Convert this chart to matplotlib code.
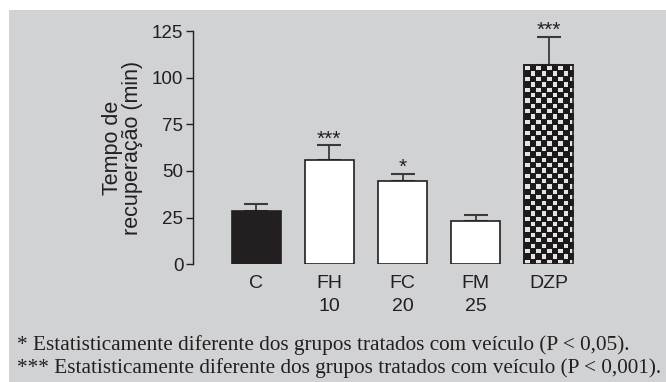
import numpy as np
import matplotlib
matplotlib.use("Agg")
import matplotlib.pyplot as plt
from matplotlib.patches import Rectangle
from matplotlib.colors import ListedColormap

# dados
grupos = ["C", "FH\n10", "FC\n20", "FM\n25", "DZP"]
medias = [28.4, 55.7, 44.8, 23.2, 106.6]
erros = [3.9, 8.2, 3.7, 3.2, 15.3]
signif = ["", "***", "*", "", "***"]
notas = ["* Estatisticamente diferente dos grupos tratados com veículo (P < 0,05).",
         "*** Estatisticamente diferente dos grupos tratados com veículo (P < 0,001)."]

escuro = "#231f20"
cinza = "#d1d2d4"

fig = plt.figure(figsize=(6.66, 3.82), dpi=100, facecolor="white")
fig.patches.append(Rectangle((9/666, 0), 1, 1 - 10/382, transform=fig.transFigure,
                             facecolor=cinza, edgecolor="none", zorder=-10))

ax = fig.add_axes([193/666, (382-264.3)/382, (612-193)/666, (264.3-31)/382])
ax.patch.set_alpha(0)

x = np.arange(len(grupos))
cores = [escuro, "white", "white", "white", escuro]
barras = ax.bar(x, medias, width=0.67, color=cores, edgecolor=escuro, linewidth=1.2, zorder=2)
ax.errorbar(x, medias, yerr=[np.zeros(len(erros)), erros], fmt="none", ecolor="#3a3a3a",
            elinewidth=1.3, capsize=8.6, capthick=1.5, zorder=1)

for xi, m, e, s in zip(x, medias, erros, signif):
    if s:
        ax.annotate(s, (xi, m + e), xytext=(0, 0.5), textcoords="offset points",
                    ha="center", va="baseline", fontsize=15, family="Liberation Sans", color=escuro)

ax.set_xlim(-0.861, 4.861)
ax.set_ylim(0, 125)

# padrão quadriculado da barra DZP
fig.canvas.draw()
b = barras[4]
x0, w, h = b.get_x(), b.get_width(), b.get_height()
p0 = ax.transData.transform((x0, 0))
p1 = ax.transData.transform((x0 + w, h))
nx = int(round((p1[0] - p0[0]) / 5.25))
ny = int(round((p1[1] - p0[1]) / 5.4))
sub = 5
img = np.zeros((ny * sub, nx * sub))
for i in range(ny):
    for j in range(nx):
        if (i + j) % 2 == 0:
            img[i*sub+1:i*sub+sub, j*sub+1:j*sub+sub] = 1
ax.imshow(img, extent=(x0, x0 + w, 0, h), aspect="auto", interpolation="nearest",
          cmap=ListedColormap(["#1c1a1b", "#e4e4e4"]), zorder=2.5)
ax.add_patch(Rectangle((x0, 0), w, h, fill=False, edgecolor=escuro, linewidth=1.2, zorder=3))
ax.set_xlim(-0.861, 4.861)
ax.set_ylim(0, 125)

for lado in ["top", "right", "bottom"]:
    ax.spines[lado].set_visible(False)
ax.spines["left"].set_color(escuro)
ax.spines["left"].set_linewidth(1.0)
ax.set_yticks([0, 25, 50, 75, 100, 125])
ax.tick_params(axis="y", length=5, width=1, color=escuro, labelsize=13.5, labelcolor=escuro, pad=2)
ax.set_xticks(x)
ax.set_xticklabels(grupos, linespacing=1.43)
ax.tick_params(axis="x", length=0, labelsize=14, labelcolor=escuro, pad=7.8)
for t in ax.get_xticklabels() + ax.get_yticklabels():
    t.set_family("Liberation Sans")

ax.set_ylabel("Tempo de\nrecuperação (min)", fontsize=15.5, family="Liberation Sans",
              color=escuro, linespacing=0.95)
ax.yaxis.set_label_coords(-0.12, 0.5)

fig.text(17/666, 1 - 345/382, notas[0], fontsize=15.3, family="Liberation Serif",
         color=escuro, va="center", ha="left")
fig.text(17/666, 1 - 368/382, notas[1], fontsize=15.3, family="Liberation Serif",
         color=escuro, va="center", ha="left")

fig.savefig("out.png", dpi=100, facecolor=fig.get_facecolor())
